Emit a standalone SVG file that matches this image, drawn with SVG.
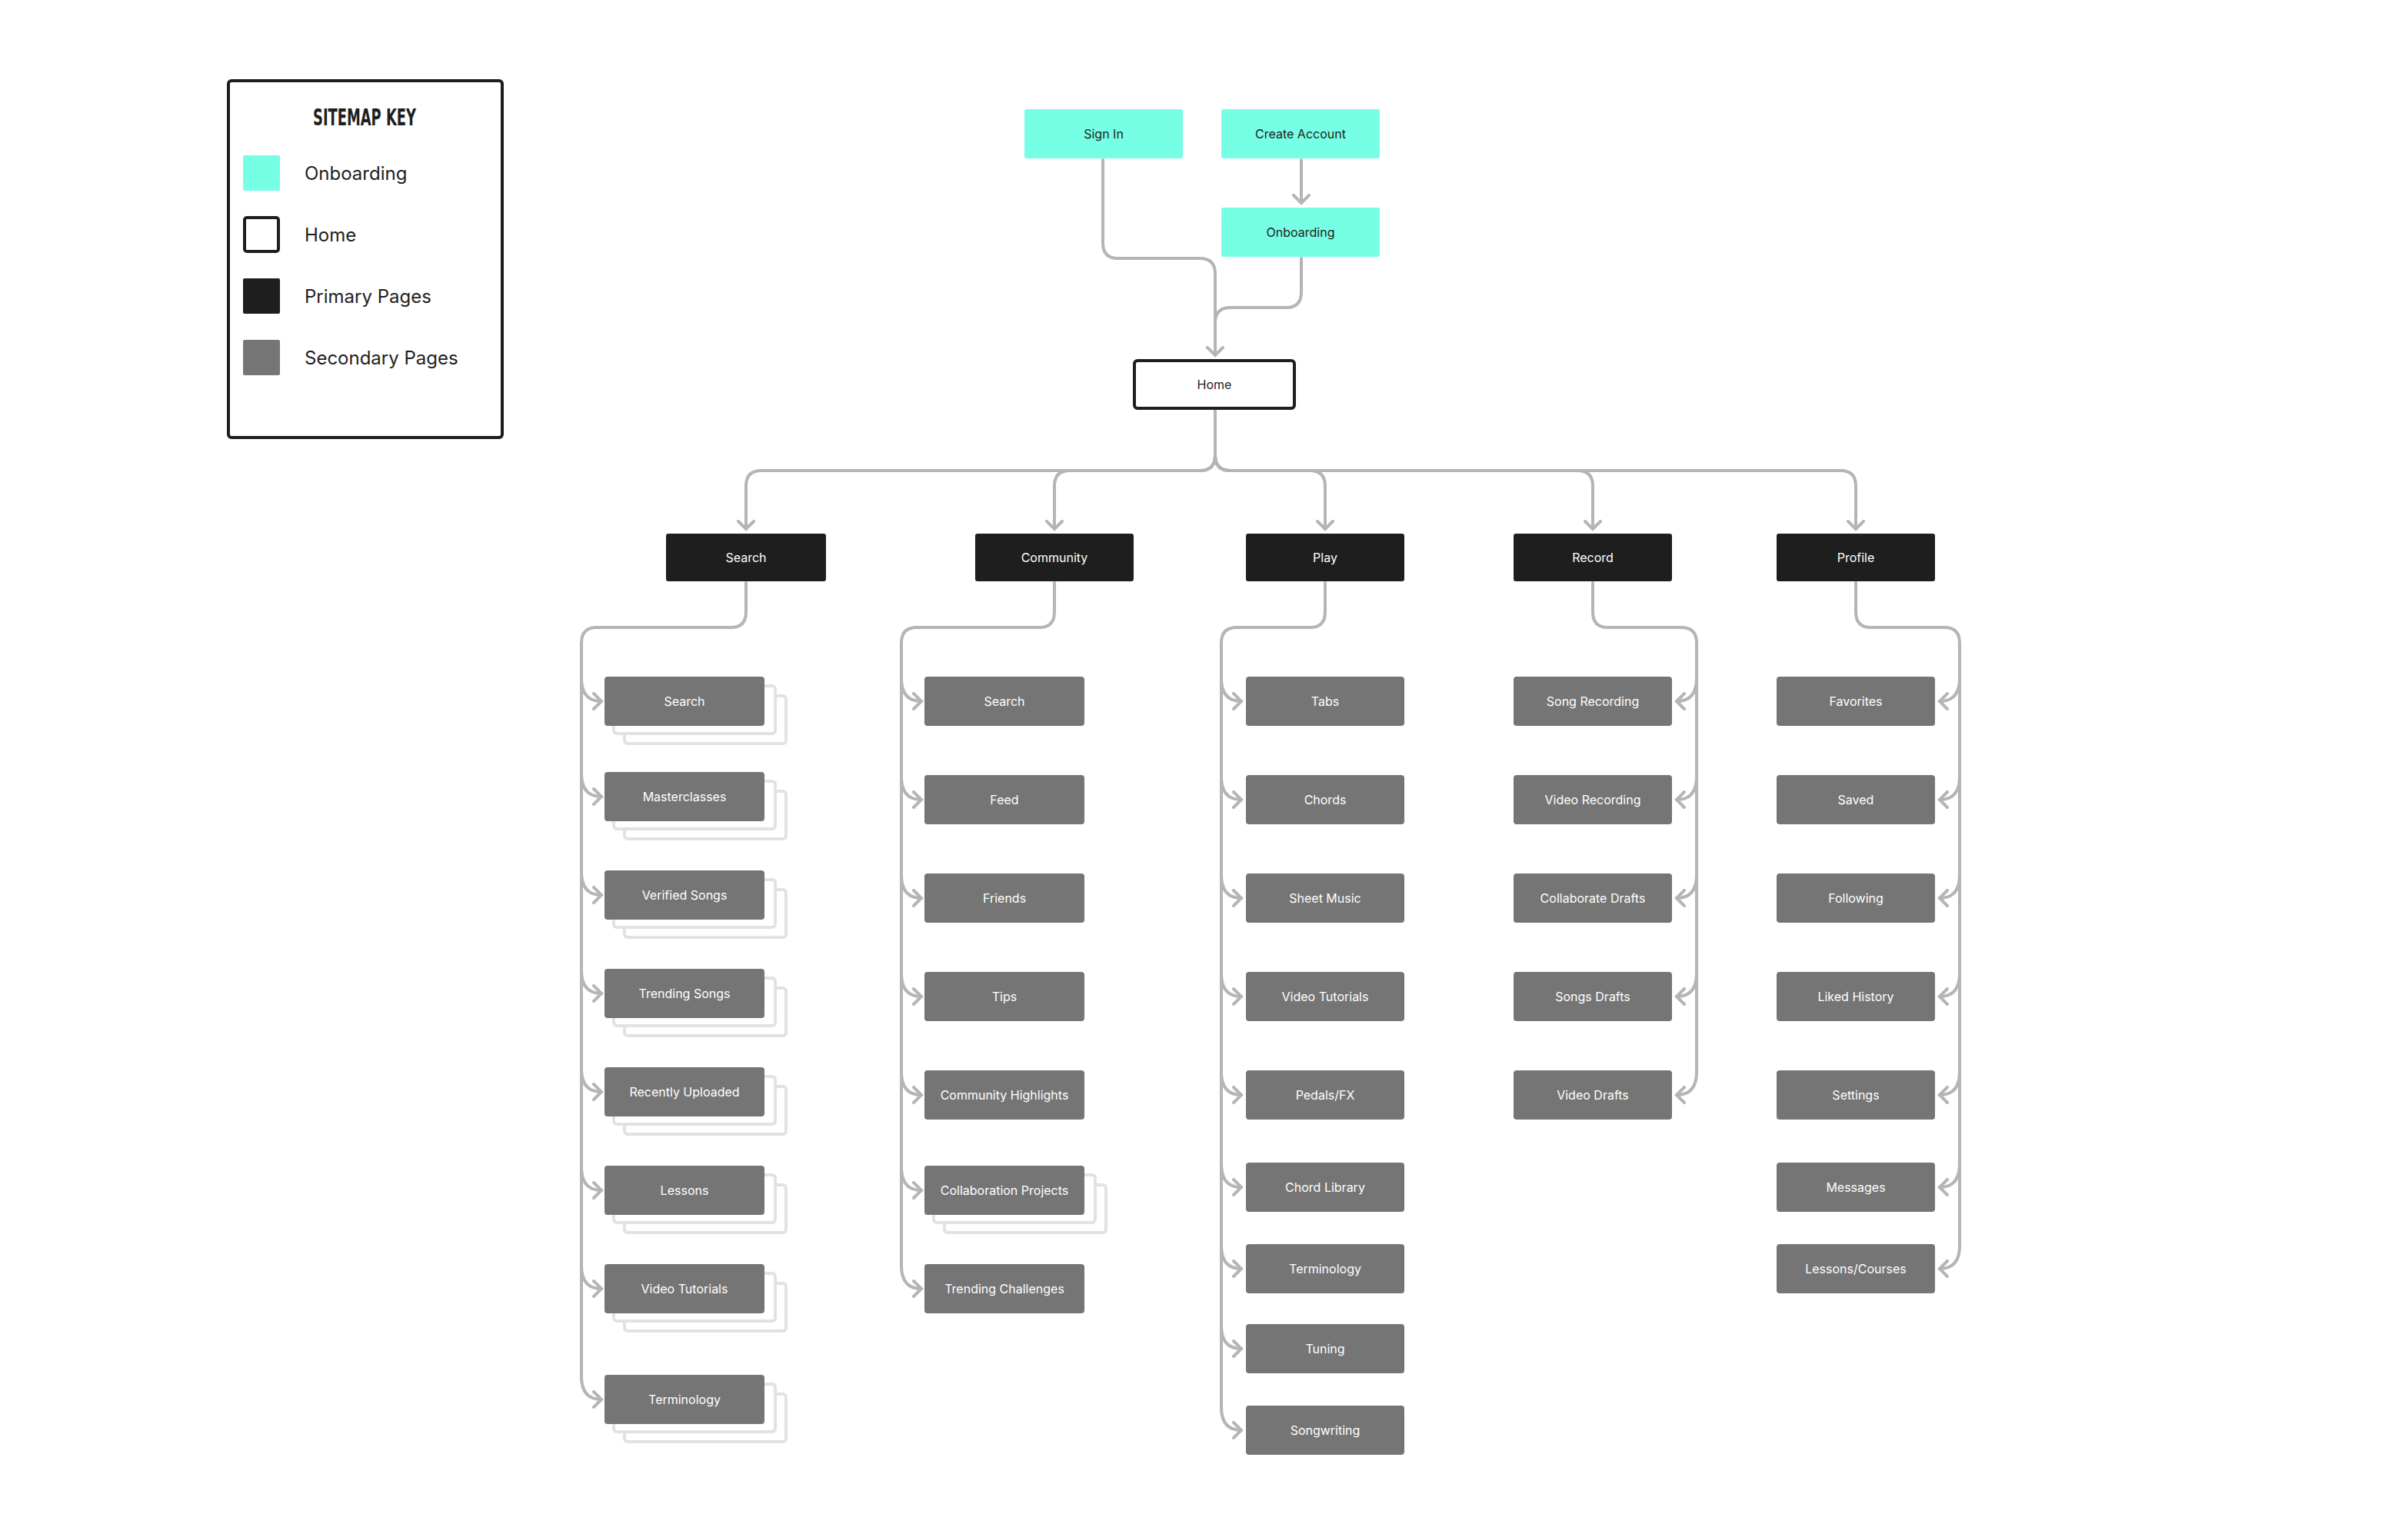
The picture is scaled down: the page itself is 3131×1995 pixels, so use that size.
<svg xmlns="http://www.w3.org/2000/svg" width="3131" height="1995" viewBox="0 0 3131 1995">
<style>
text{font-family:Inter,"Liberation Sans",sans-serif;text-anchor:middle;dominant-baseline:central;font-size:16px}
.on{fill:#76ffe5}.on+text{fill:#1e1e1e}
.pr{fill:#1e1e1e}.pr+text{fill:#fff}
.se{fill:#757575}.se+text{fill:#fff}
.sh{fill:#fff;stroke:#e2e2e2;stroke-width:4}
.c path{fill:none;stroke:#b5b5b5;stroke-width:4;stroke-linecap:round}
.lg{font-size:24px;text-anchor:start;fill:#1e1e1e}
</style>
<defs>
<marker id="a" markerUnits="userSpaceOnUse" markerWidth="20" markerHeight="24" refX="12" refY="12" orient="auto"><path d="M2,2 L12,12 L2,22" fill="none" stroke="#b5b5b5" stroke-width="4" stroke-linecap="round"/></marker>
</defs>
<rect width="3131" height="1995" fill="#fff"/>
<g id="legend">
<rect x="297" y="105" width="356" height="464" rx="4" fill="#fff" stroke="#1e1e1e" stroke-width="4"/>
<text x="474" y="152" style="font-family:'DejaVu Sans Condensed','Liberation Sans Narrow',sans-serif;font-weight:bold;font-size:30px;fill:#1e1e1e" textLength="134" lengthAdjust="spacingAndGlyphs">SITEMAP KEY</text>
<rect x="316" y="202" width="48" height="46" rx="2" fill="#76ffe5"/><text class="lg" x="396" y="225">Onboarding</text>
<rect x="318" y="283" width="44" height="44" rx="3" fill="#fff" stroke="#1e1e1e" stroke-width="4"/><text class="lg" x="396" y="305">Home</text>
<rect x="316" y="362" width="48" height="46" rx="2" fill="#1e1e1e"/><text class="lg" x="396" y="385">Primary Pages</text>
<rect x="316" y="442" width="48" height="46" rx="2" fill="#757575"/><text class="lg" x="396" y="465">Secondary Pages</text>
</g>
<g class="c" id="connectors">
<path d="M1434 208 L1434 316 Q1434 336 1454 336 L1560 336 Q1580 336 1580 356 L1580 462" marker-end="url(#a)"/>
<path d="M1692 208 L1692 264" marker-end="url(#a)"/>
<path d="M1692 336 L1692 380 Q1692 400 1672 400 L1600 400 Q1580 400 1580 420"/>
<path d="M1580 534 L1580 592 Q1580 612 1560 612 L990 612 Q970 612 970 632 L970 688" marker-end="url(#a)"/>
<path d="M1580 592 Q1580 612 1560 612 L1391 612 Q1371 612 1371 632 L1371 688" marker-end="url(#a)"/>
<path d="M1580 592 Q1580 612 1600 612 L1703 612 Q1723 612 1723 632 L1723 688" marker-end="url(#a)"/>
<path d="M1580 592 Q1580 612 1600 612 L2051 612 Q2071 612 2071 632 L2071 688" marker-end="url(#a)"/>
<path d="M1580 592 Q1580 612 1600 612 L2393 612 Q2413 612 2413 632 L2413 688" marker-end="url(#a)"/>
<!-- Search column -->
<path d="M970 758 L970 796 Q970 816 950 816 L776 816 Q756 816 756 836 L756 1790"/>
<path d="M756 882 Q756 912 782 912" marker-end="url(#a)"/>
<path d="M756 1006 Q756 1036 782 1036" marker-end="url(#a)"/>
<path d="M756 1134 Q756 1164 782 1164" marker-end="url(#a)"/>
<path d="M756 1262 Q756 1292 782 1292" marker-end="url(#a)"/>
<path d="M756 1390 Q756 1420 782 1420" marker-end="url(#a)"/>
<path d="M756 1518 Q756 1548 782 1548" marker-end="url(#a)"/>
<path d="M756 1646 Q756 1676 782 1676" marker-end="url(#a)"/>
<path d="M756 1790 Q756 1820 782 1820" marker-end="url(#a)"/>
<!-- Community column -->
<path d="M1371 758 L1371 796 Q1371 816 1351 816 L1192 816 Q1172 816 1172 836 L1172 1646"/>
<path d="M1172 882 Q1172 912 1198 912" marker-end="url(#a)"/>
<path d="M1172 1010 Q1172 1040 1198 1040" marker-end="url(#a)"/>
<path d="M1172 1138 Q1172 1168 1198 1168" marker-end="url(#a)"/>
<path d="M1172 1266 Q1172 1296 1198 1296" marker-end="url(#a)"/>
<path d="M1172 1394 Q1172 1424 1198 1424" marker-end="url(#a)"/>
<path d="M1172 1518 Q1172 1548 1198 1548" marker-end="url(#a)"/>
<path d="M1172 1646 Q1172 1676 1198 1676" marker-end="url(#a)"/>
<!-- Play column -->
<path d="M1723 758 L1723 796 Q1723 816 1703 816 L1608 816 Q1588 816 1588 836 L1588 1830"/>
<path d="M1588 882 Q1588 912 1614 912" marker-end="url(#a)"/>
<path d="M1588 1010 Q1588 1040 1614 1040" marker-end="url(#a)"/>
<path d="M1588 1138 Q1588 1168 1614 1168" marker-end="url(#a)"/>
<path d="M1588 1266 Q1588 1296 1614 1296" marker-end="url(#a)"/>
<path d="M1588 1394 Q1588 1424 1614 1424" marker-end="url(#a)"/>
<path d="M1588 1514 Q1588 1544 1614 1544" marker-end="url(#a)"/>
<path d="M1588 1620 Q1588 1650 1614 1650" marker-end="url(#a)"/>
<path d="M1588 1724 Q1588 1754 1614 1754" marker-end="url(#a)"/>
<path d="M1588 1830 Q1588 1860 1614 1860" marker-end="url(#a)"/>
<!-- Record column -->
<path d="M2071 758 L2071 796 Q2071 816 2091 816 L2186 816 Q2206 816 2206 836 L2206 1394"/>
<path d="M2206 882 Q2206 912 2180 912" marker-end="url(#a)"/>
<path d="M2206 1010 Q2206 1040 2180 1040" marker-end="url(#a)"/>
<path d="M2206 1138 Q2206 1168 2180 1168" marker-end="url(#a)"/>
<path d="M2206 1266 Q2206 1296 2180 1296" marker-end="url(#a)"/>
<path d="M2206 1394 Q2206 1424 2180 1424" marker-end="url(#a)"/>
<!-- Profile column -->
<path d="M2413 758 L2413 796 Q2413 816 2433 816 L2528 816 Q2548 816 2548 836 L2548 1620"/>
<path d="M2548 882 Q2548 912 2522 912" marker-end="url(#a)"/>
<path d="M2548 1010 Q2548 1040 2522 1040" marker-end="url(#a)"/>
<path d="M2548 1138 Q2548 1168 2522 1168" marker-end="url(#a)"/>
<path d="M2548 1266 Q2548 1296 2522 1296" marker-end="url(#a)"/>
<path d="M2548 1394 Q2548 1424 2522 1424" marker-end="url(#a)"/>
<path d="M2548 1514 Q2548 1544 2522 1544" marker-end="url(#a)"/>
<path d="M2548 1620 Q2548 1650 2522 1650" marker-end="url(#a)"/>
</g>
<g id="n-signin"><rect class="on" x="1332" y="142" width="206" height="64" rx="3"/><text x="1435" y="174">Sign In</text></g>
<g id="n-create"><rect class="on" x="1588" y="142" width="206" height="64" rx="3"/><text x="1691" y="174">Create Account</text></g>
<g id="n-onboarding"><rect class="on" x="1588" y="270" width="206" height="64" rx="3"/><text x="1691" y="302">Onboarding</text></g>
<g id="n-home"><rect x="1475" y="469" width="208" height="62" rx="4" fill="#fff" stroke="#1e1e1e" stroke-width="4"/><text x="1579" y="500" fill="#1e1e1e">Home</text></g>
<g id="p-search"><rect class="pr" x="866" y="694" width="208" height="62" rx="3"/><text x="970" y="725">Search</text></g>
<g id="p-community"><rect class="pr" x="1268" y="694" width="206" height="62" rx="3"/><text x="1371" y="725">Community</text></g>
<g id="p-play"><rect class="pr" x="1620" y="694" width="206" height="62" rx="3"/><text x="1723" y="725">Play</text></g>
<g id="p-record"><rect class="pr" x="1968" y="694" width="206" height="62" rx="3"/><text x="2071" y="725">Record</text></g>
<g id="p-profile"><rect class="pr" x="2310" y="694" width="206" height="62" rx="3"/><text x="2413" y="725">Profile</text></g>
<!-- Search children (stacked) -->
<g id="s1"><rect class="sh" x="812" y="905" width="210" height="62" rx="4"/><rect class="sh" x="798" y="892" width="210" height="62" rx="4"/><rect class="se" x="786" y="880" width="208" height="64" rx="4"/><text x="890" y="912">Search</text></g>
<g id="s2"><rect class="sh" x="812" y="1029" width="210" height="62" rx="4"/><rect class="sh" x="798" y="1016" width="210" height="62" rx="4"/><rect class="se" x="786" y="1004" width="208" height="64" rx="4"/><text x="890" y="1036">Masterclasses</text></g>
<g id="s3"><rect class="sh" x="812" y="1157" width="210" height="62" rx="4"/><rect class="sh" x="798" y="1144" width="210" height="62" rx="4"/><rect class="se" x="786" y="1132" width="208" height="64" rx="4"/><text x="890" y="1164">Verified Songs</text></g>
<g id="s4"><rect class="sh" x="812" y="1285" width="210" height="62" rx="4"/><rect class="sh" x="798" y="1272" width="210" height="62" rx="4"/><rect class="se" x="786" y="1260" width="208" height="64" rx="4"/><text x="890" y="1292">Trending Songs</text></g>
<g id="s5"><rect class="sh" x="812" y="1413" width="210" height="62" rx="4"/><rect class="sh" x="798" y="1400" width="210" height="62" rx="4"/><rect class="se" x="786" y="1388" width="208" height="64" rx="4"/><text x="890" y="1420">Recently Uploaded</text></g>
<g id="s6"><rect class="sh" x="812" y="1541" width="210" height="62" rx="4"/><rect class="sh" x="798" y="1528" width="210" height="62" rx="4"/><rect class="se" x="786" y="1516" width="208" height="64" rx="4"/><text x="890" y="1548">Lessons</text></g>
<g id="s7"><rect class="sh" x="812" y="1669" width="210" height="62" rx="4"/><rect class="sh" x="798" y="1656" width="210" height="62" rx="4"/><rect class="se" x="786" y="1644" width="208" height="64" rx="4"/><text x="890" y="1676">Video Tutorials</text></g>
<g id="s8"><rect class="sh" x="812" y="1813" width="210" height="62" rx="4"/><rect class="sh" x="798" y="1800" width="210" height="62" rx="4"/><rect class="se" x="786" y="1788" width="208" height="64" rx="4"/><text x="890" y="1820">Terminology</text></g>
<!-- Community children -->
<g id="c1"><rect class="se" x="1202" y="880" width="208" height="64" rx="4"/><text x="1306" y="912">Search</text></g>
<g id="c2"><rect class="se" x="1202" y="1008" width="208" height="64" rx="4"/><text x="1306" y="1040">Feed</text></g>
<g id="c3"><rect class="se" x="1202" y="1136" width="208" height="64" rx="4"/><text x="1306" y="1168">Friends</text></g>
<g id="c4"><rect class="se" x="1202" y="1264" width="208" height="64" rx="4"/><text x="1306" y="1296">Tips</text></g>
<g id="c5"><rect class="se" x="1202" y="1392" width="208" height="64" rx="4"/><text x="1306" y="1424">Community Highlights</text></g>
<g id="c6"><rect class="sh" x="1228" y="1541" width="210" height="62" rx="4"/><rect class="sh" x="1214" y="1528" width="210" height="62" rx="4"/><rect class="se" x="1202" y="1516" width="208" height="64" rx="4"/><text x="1306" y="1548">Collaboration Projects</text></g>
<g id="c7"><rect class="se" x="1202" y="1644" width="208" height="64" rx="4"/><text x="1306" y="1676">Trending Challenges</text></g>
<!-- Play children -->
<g id="pl1"><rect class="se" x="1620" y="880" width="206" height="64" rx="4"/><text x="1723" y="912">Tabs</text></g>
<g id="pl2"><rect class="se" x="1620" y="1008" width="206" height="64" rx="4"/><text x="1723" y="1040">Chords</text></g>
<g id="pl3"><rect class="se" x="1620" y="1136" width="206" height="64" rx="4"/><text x="1723" y="1168">Sheet Music</text></g>
<g id="pl4"><rect class="se" x="1620" y="1264" width="206" height="64" rx="4"/><text x="1723" y="1296">Video Tutorials</text></g>
<g id="pl5"><rect class="se" x="1620" y="1392" width="206" height="64" rx="4"/><text x="1723" y="1424">Pedals/FX</text></g>
<g id="pl6"><rect class="se" x="1620" y="1512" width="206" height="64" rx="4"/><text x="1723" y="1544">Chord Library</text></g>
<g id="pl7"><rect class="se" x="1620" y="1618" width="206" height="64" rx="4"/><text x="1723" y="1650">Terminology</text></g>
<g id="pl8"><rect class="se" x="1620" y="1722" width="206" height="64" rx="4"/><text x="1723" y="1754">Tuning</text></g>
<g id="pl9"><rect class="se" x="1620" y="1828" width="206" height="64" rx="4"/><text x="1723" y="1860">Songwriting</text></g>
<!-- Record children -->
<g id="r1"><rect class="se" x="1968" y="880" width="206" height="64" rx="4"/><text x="2071" y="912">Song Recording</text></g>
<g id="r2"><rect class="se" x="1968" y="1008" width="206" height="64" rx="4"/><text x="2071" y="1040">Video Recording</text></g>
<g id="r3"><rect class="se" x="1968" y="1136" width="206" height="64" rx="4"/><text x="2071" y="1168">Collaborate Drafts</text></g>
<g id="r4"><rect class="se" x="1968" y="1264" width="206" height="64" rx="4"/><text x="2071" y="1296">Songs Drafts</text></g>
<g id="r5"><rect class="se" x="1968" y="1392" width="206" height="64" rx="4"/><text x="2071" y="1424">Video Drafts</text></g>
<!-- Profile children -->
<g id="f1"><rect class="se" x="2310" y="880" width="206" height="64" rx="4"/><text x="2413" y="912">Favorites</text></g>
<g id="f2"><rect class="se" x="2310" y="1008" width="206" height="64" rx="4"/><text x="2413" y="1040">Saved</text></g>
<g id="f3"><rect class="se" x="2310" y="1136" width="206" height="64" rx="4"/><text x="2413" y="1168">Following</text></g>
<g id="f4"><rect class="se" x="2310" y="1264" width="206" height="64" rx="4"/><text x="2413" y="1296">Liked History</text></g>
<g id="f5"><rect class="se" x="2310" y="1392" width="206" height="64" rx="4"/><text x="2413" y="1424">Settings</text></g>
<g id="f6"><rect class="se" x="2310" y="1512" width="206" height="64" rx="4"/><text x="2413" y="1544">Messages</text></g>
<g id="f7"><rect class="se" x="2310" y="1618" width="206" height="64" rx="4"/><text x="2413" y="1650">Lessons/Courses</text></g>
</svg>
